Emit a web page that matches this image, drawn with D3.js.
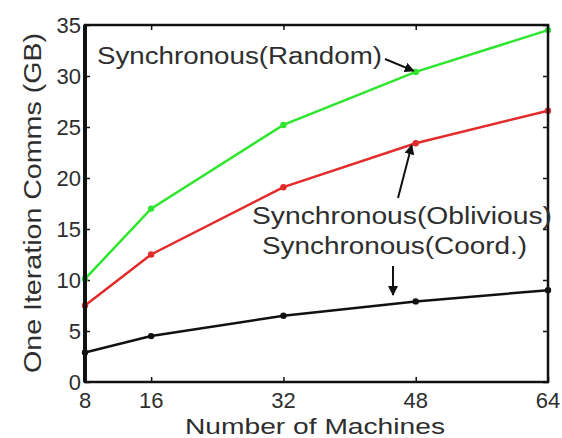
<!DOCTYPE html>
<html>
<head>
<meta charset="utf-8">
<script src="https://cdn.jsdelivr.net/npm/d3@7"></script>
<style>
  body { margin: 0; background: #fff; }
  text { font-family: "Liberation Sans", Arial, sans-serif; fill: #2e2e2e; }
</style>
</head>
<body>
<div id="chart"></div>
<script>
const machines = [8, 16, 32, 48, 64];
const randomComms = [10.1, 17.0, 25.2, 30.4, 34.5];
const obliviousComms = [7.5, 12.5, 19.1, 23.4, 26.6];
const coordComms = [2.9, 4.5, 6.5, 7.9, 9.0];
const xTicks = [8, 16, 32, 48, 64];
const yTicks = [0, 5, 10, 15, 20, 25, 30, 35];

const W = 562, H = 438;
const margin = { top: 25, right: 14, bottom: 56, left: 85 };
const width = W - margin.left - margin.right;
const height = H - margin.top - margin.bottom;

const svg = d3.select("#chart").append("svg")
    .attr("width", W)
    .attr("height", H);

svg.append("defs").append("marker")
    .attr("id", "arrow")
    .attr("viewBox", "0 0 10 10")
    .attr("refX", 9).attr("refY", 5)
    .attr("markerWidth", 5).attr("markerHeight", 5)
    .attr("orient", "auto")
    .append("path").attr("d", "M0,0L10,5L0,10z").attr("fill", "#111");

const g = svg.append("g")
    .attr("transform", `translate(${margin.left},${margin.top})`);

const x = d3.scaleLinear().domain([8, 64]).range([0, width]);
const y = d3.scaleLinear().domain([0, 35]).range([height, 0]);

// inward ticks on all four sides
const tk = 5;
g.append("g").attr("transform", `translate(0,${height})`)
    .call(d3.axisBottom(x).tickValues(xTicks).tickSize(-tk).tickFormat(""))
    .call(a => a.select(".domain").remove());
g.append("g")
    .call(d3.axisTop(x).tickValues(xTicks).tickSize(-tk).tickFormat(""))
    .call(a => a.select(".domain").remove());
g.append("g")
    .call(d3.axisLeft(y).tickValues(yTicks).tickSize(-tk).tickFormat(""))
    .call(a => a.select(".domain").remove());
g.append("g").attr("transform", `translate(${width},0)`)
    .call(d3.axisRight(y).tickValues(yTicks).tickSize(-tk).tickFormat(""))
    .call(a => a.select(".domain").remove());
g.selectAll(".tick line").attr("stroke", "#111").attr("stroke-width", 1.5);

// tick labels
g.selectAll(".xlab").data(xTicks).enter().append("text")
    .attr("x", d => x(d)).attr("y", height + 26)
    .attr("text-anchor", "middle").attr("font-size", 22)
    .text(d => d);
g.selectAll(".ylab").data(yTicks).enter().append("text")
    .attr("x", -4).attr("y", d => y(d) + 8)
    .attr("text-anchor", "end").attr("font-size", 22)
    .text(d => d);

// axis titles
svg.append("text")
    .attr("x", 315).attr("y", 434)
    .attr("text-anchor", "middle").attr("font-size", 22)
    .attr("textLength", 260).attr("lengthAdjust", "spacingAndGlyphs")
    .text("Number of Machines");
svg.append("text")
    .attr("transform", "translate(41,203) rotate(-90)")
    .attr("text-anchor", "middle").attr("font-size", 23)
    .attr("textLength", 340).attr("lengthAdjust", "spacingAndGlyphs")
    .text("One Iteration Comms (GB)");

// series
const series = [
    { values: randomComms, color: "#2ee62e" },
    { values: obliviousComms, color: "#e32b2b" },
    { values: coordComms, color: "#111111" }
];
const line = d3.line().x(d => x(d[0])).y(d => y(d[1]));
series.forEach(s => {
    const pts = machines.map((m, i) => [m, s.values[i]]);
    g.append("path").datum(pts)
        .attr("fill", "none").attr("stroke", s.color).attr("stroke-width", 2.5)
        .attr("d", line);
    g.selectAll(null).data(pts).enter().append("circle")
        .attr("cx", d => x(d[0])).attr("cy", d => y(d[1]))
        .attr("r", 3.2).attr("fill", s.color);
});

// plot frame
g.append("rect")
    .attr("width", width).attr("height", height)
    .attr("fill", "none").attr("stroke", "#111").attr("stroke-width", 2.5);
g.append("line").attr("x1", 0).attr("x2", 0).attr("y1", 0).attr("y2", height)
    .attr("stroke", "#111").attr("stroke-width", 4);

// annotations
const ann = svg.append("g").attr("font-size", 23);
ann.append("text").attr("x", 97).attr("y", 64)
    .attr("textLength", 285).attr("lengthAdjust", "spacingAndGlyphs")
    .text("Synchronous(Random)");
ann.append("text").attr("x", 252).attr("y", 224)
    .attr("textLength", 300).attr("lengthAdjust", "spacingAndGlyphs")
    .text("Synchronous(Oblivious)");
ann.append("text").attr("x", 262).attr("y", 254)
    .attr("textLength", 265).attr("lengthAdjust", "spacingAndGlyphs")
    .text("Synchronous(Coord.)");

const arrows = [
    [385, 59, x(48) + margin.left - 2, y(randomComms[3]) + margin.top - 1],
    [398, 198, x(48) + margin.left - 4, y(obliviousComms[3]) + margin.top + 2],
    [393, 266, 393, 295]
];
arrows.forEach(a => {
    svg.append("line")
        .attr("x1", a[0]).attr("y1", a[1]).attr("x2", a[2]).attr("y2", a[3])
        .attr("stroke", "#111").attr("stroke-width", 2)
        .attr("marker-end", "url(#arrow)");
});
</script>
</body>
</html>
